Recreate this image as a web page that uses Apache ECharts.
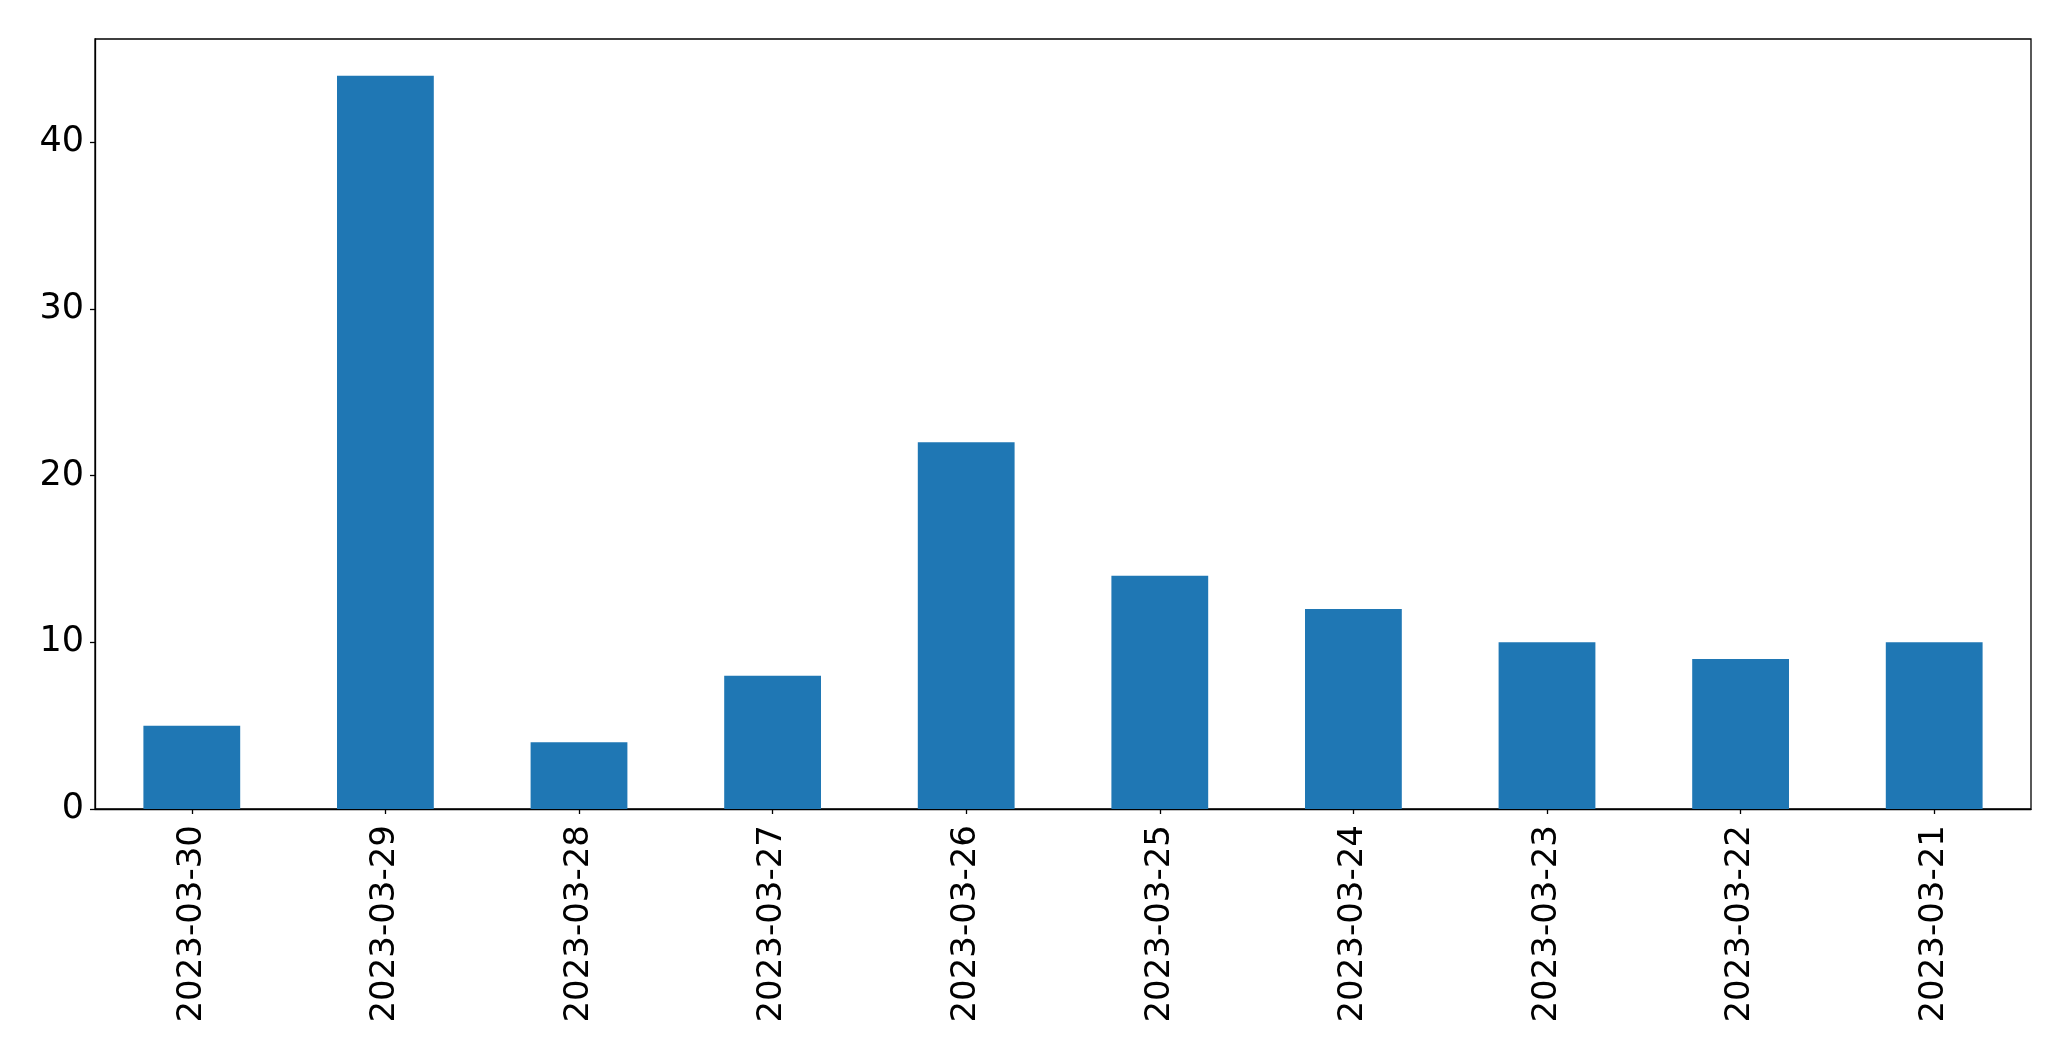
<!DOCTYPE html>
<html>
<head>
<meta charset="utf-8">
<script src="https://cdn.jsdelivr.net/npm/echarts@6/dist/echarts.min.js"></script>
<style>
html,body{margin:0;padding:0;background:#fff;}
#chart{width:2071px;height:1061px;}
</style>
</head>
<body>
<div id="chart"></div>
<script>
const categories = ["2023-03-30","2023-03-29","2023-03-28","2023-03-27","2023-03-26","2023-03-25","2023-03-24","2023-03-23","2023-03-22","2023-03-21"];
const values = [5, 44, 4, 8, 22, 14, 12, 10, 9, 10];
const yTicks = [0, 10, 20, 30, 40];

const chart = echarts.init(document.getElementById('chart'), null, {renderer: 'canvas'});
const font = 'DejaVu Sans';
chart.setOption({
  animation: false,
  backgroundColor: '#ffffff',
  grid: {left: 95, right: 40, top: 39, bottom: 252, show: true, borderColor: '#000', borderWidth: 1.3, backgroundColor: 'transparent'},
  xAxis: {
    type: 'category',
    data: categories,
    boundaryGap: true,
    axisLine: {show: true, lineStyle: {color: '#000', width: 1.3}},
    axisTick: {show: true, alignWithLabel: true, length: 5, lineStyle: {color: '#000', width: 1.3}},
    axisLabel: {rotate: 90, fontFamily: font, fontSize: 34, color: '#000', margin: 16, interval: 0},
    splitLine: {show: false}
  },
  yAxis: {
    type: 'value',
    min: 0,
    max: 46.2,
    interval: 10,
    axisLine: {show: true, lineStyle: {color: '#000', width: 1.3}},
    axisTick: {show: true, length: 5, customValues: yTicks, lineStyle: {color: '#000', width: 1.3}},
    axisLabel: {fontFamily: font, fontSize: 35, color: '#000', margin: 11, customValues: yTicks},
    splitLine: {show: false}
  },
  series: [{
    type: 'bar',
    data: values,
    barWidth: '50%',
    itemStyle: {color: '#1f77b4'}
  }]
});
</script>
</body>
</html>
